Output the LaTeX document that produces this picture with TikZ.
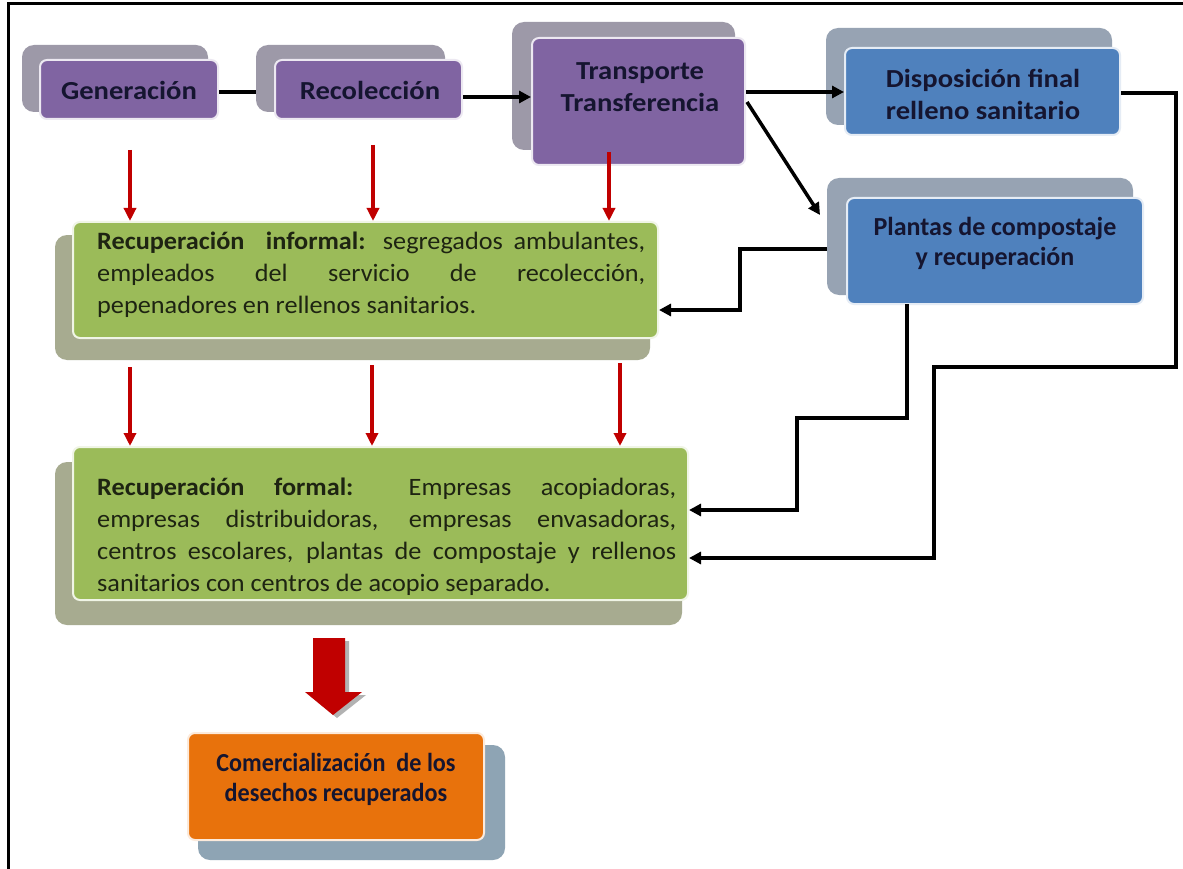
\documentclass[tikz,border=0pt]{standalone}
\usepackage{fontspec}
\setmainfont{Carlito}
\newfontfamily\ttlfont{Carlito}[FakeStretch=1.1]
\newfontfamily\bodyfont{Carlito}[FakeStretch=1.05]
\newfontfamily\narrowfont{Carlito}[FakeStretch=0.93]
\usetikzlibrary{arrows.meta}
\definecolor{purp}{HTML}{8064A2}
\definecolor{purpsh}{HTML}{9D99A8}
\definecolor{blu}{HTML}{4F81BD}
\definecolor{blush}{HTML}{97A3B3}
\definecolor{grn}{HTML}{9BBB59}
\definecolor{grnsh}{HTML}{A7AB90}
\definecolor{orng}{HTML}{E8720C}
\definecolor{orsh}{HTML}{8EA4B4}
\definecolor{redarr}{HTML}{C00000}
\definecolor{txt}{HTML}{151530}
\definecolor{bodytxt}{HTML}{1E2412}
\tikzset{
  shbox/.style={fill=#1, rounded corners=12pt, inner sep=0pt, draw=none},
  frontbox/.style={fill=#1, draw=white!85!#1, line width=2pt, rounded corners=7pt, inner sep=0pt},
  ttl/.style={text=txt, align=center, font=\ttlfont\bfseries\fontsize{26}{32}\selectfont, inner sep=0pt},
  bodytext/.style={text=bodytxt, align=justify, font=\bodyfont\fontsize{25}{32}\selectfont, inner sep=0pt, anchor=north west},
  conn/.style={line width=3.5pt, black},
  connarr/.style={conn, -{Triangle[length=12pt,width=12pt]}},
  redarrow/.style={line width=3.4pt, redarr, -{Triangle[length=13pt,width=12pt]}},
}
\begin{document}
\begin{tikzpicture}[x=1pt,y=-1pt]
\useasboundingbox (0,0) rectangle (1183,869);
\fill[white] (0,0) rectangle (1183,869);
% frame
\draw[line width=3pt] (8,869) -- (8,4) -- (1183,4);

% shadows
\node[shbox=purpsh, minimum width=186pt, minimum height=67pt] (gensh) at (115,78.5) {};
\node[shbox=purpsh, minimum width=189pt, minimum height=67pt] (recsh) at (350.5,78.5) {};
\node[shbox=purpsh, minimum width=223pt, minimum height=128pt] (trash) at (623.5,86) {};
\node[shbox=blush, minimum width=286pt, minimum height=97pt] (dissh) at (969,76.5) {};
\node[shbox=blush, minimum width=306pt, minimum height=117pt] (plash) at (980,236.5) {};
\node[shbox=grnsh, minimum width=595pt, minimum height=125pt] (infsh) at (352.5,297.5) {};
\node[shbox=grnsh, minimum width=627pt, minimum height=163pt] (forsh) at (368.5,543.5) {};
\node[shbox=orsh, minimum width=307pt, minimum height=115pt] (comsh) at (351.5,802.5) {};

% front boxes
\node[frontbox=purp, minimum width=178pt, minimum height=59pt] (gen) at (129,89.5) {};
\node[frontbox=purp, minimum width=187pt, minimum height=59pt] (rec) at (368.5,89.5) {};
\node[frontbox=purp, minimum width=213pt, minimum height=127pt] (tra) at (638.5,101.5) {};
\node[frontbox=blu, minimum width=275pt, minimum height=87pt] (dis) at (982.5,91.5) {};
\node[frontbox=blu, minimum width=296pt, minimum height=106pt] (pla) at (995,251) {};
\node[frontbox=grn, minimum width=585pt, minimum height=116pt] (inf) at (365.5,280) {};
\node[frontbox=grn, minimum width=615pt, minimum height=153pt] (for) at (380.5,523.5) {};
\node[frontbox=orng, minimum width=296pt, minimum height=107pt] (com) at (336,786.5) {};

% titles
\node[ttl] (gent) at (129,90) {Generación};
\node[ttl] (rect) at (370,90) {Recolección};
\node[ttl] (trat) at (640,87) {Transporte\\Transferencia};
\node[ttl] (dist) at (983,94) {Disposición final\\relleno sanitario};
\node[ttl, font=\bfseries\fontsize{26}{30}\selectfont] (plat) at (995,243) {Plantas de compostaje\\y recuperación};
\node[ttl, font=\narrowfont\bfseries\fontsize{26}{30}\selectfont] (comt) at (336,779) {Comercialización\ \ de los\\desechos recuperados};

% body texts
\node[bodytext, text width=548pt] (inft) at (97,232) {\textbf{Recuperación\ \ informal:} segregados ambulantes,\linebreak empleados del servicio de recolección,\linebreak pepenadores en rellenos sanitarios.};
\node[bodytext, text width=579pt] (fort) at (97,478) {\textbf{Recuperación formal:} Empresas acopiadoras,\linebreak empresas distribuidoras, empresas envasadoras,\linebreak centros escolares, plantas de compostaje y rellenos\linebreak sanitarios con centros de acopio separado.};

% black connectors
\draw[conn] (gen.east |- 0,92) -- (recsh.west |- 0,92);
\draw[connarr] (rec.east |- 0,97) -- (tra.west |- 0,97);
\draw[connarr] (tra.east |- 0,92) -- (dis.west |- 0,92);
\coordinate (trad) at (747,102);
\coordinate (plain) at (820,215);
\draw[connarr] (trad) -- (plain);
\draw[connarr] (plash.west |- 0,249) -- (740,249) -- (740,310) -- (inf.east |- 0,310);
\draw[connarr] (907,304) -- (907,418) -- (797,418) -- (797,510) -- (for.east |- 0,510);
\draw[connarr] (dis.east |- 0,93) -- (1176,93) -- (1176,367) -- (934,367) -- (934,558) -- (for.east |- 0,558);

% red arrows
\coordinate (r1a) at (130,150); \coordinate (r2a) at (373,145); \coordinate (r3a) at (609,152);
\coordinate (r4a) at (130,367); \coordinate (r5a) at (372,365); \coordinate (r6a) at (620,363);
\draw[redarrow] (r1a) -- (r1a |- inf.north);
\draw[redarrow] (r2a) -- (r2a |- inf.north);
\draw[redarrow] (r3a) -- (r3a |- inf.north);
\draw[redarrow] (r4a) -- (r4a |- for.north);
\draw[redarrow] (r5a) -- (r5a |- for.north);
\draw[redarrow] (r6a) -- (r6a |- for.north);

% big block arrow
\fill[black!30] (317,641) -- (349,641) -- (349,695) -- (366,695) -- (337,718) -- (309,695) -- (317,695) -- cycle;
\fill[redarr] (313,638) -- (345,638) -- (345,692) -- (362,692) -- (333,715) -- (305,692) -- (313,692) -- cycle;
\end{tikzpicture}
\end{document}
